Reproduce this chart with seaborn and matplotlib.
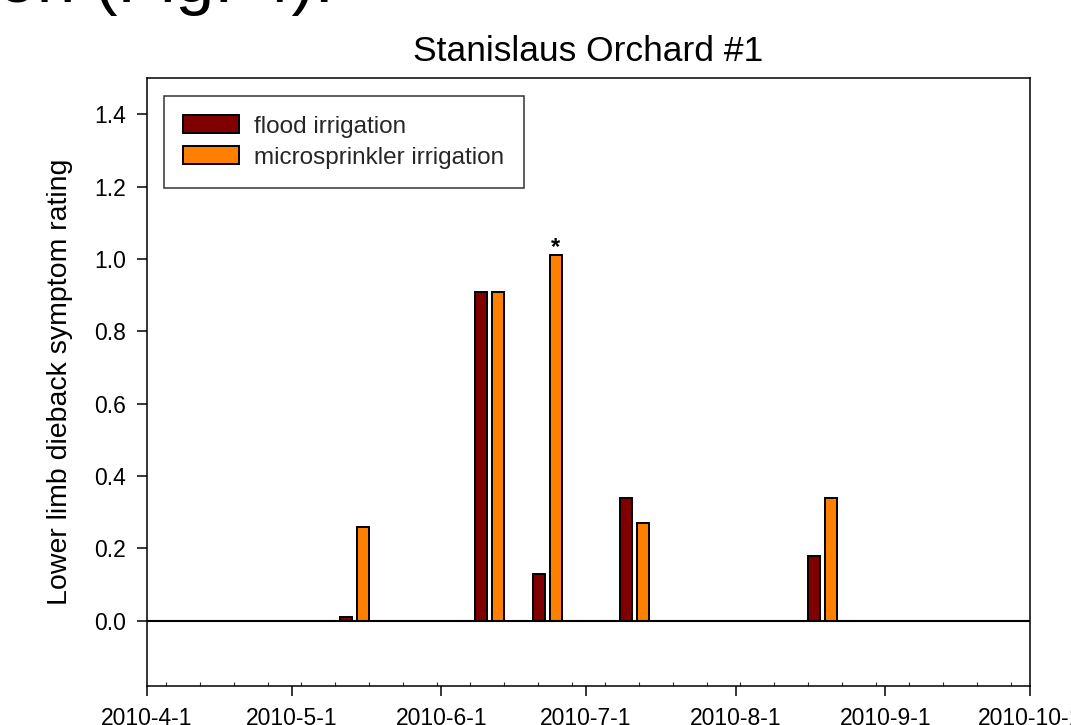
import numpy as np
import pandas as pd
import matplotlib
matplotlib.use("Agg")
import matplotlib.pyplot as plt
import matplotlib.dates as mdates
import seaborn as sns

# Sampling dates and mean lower-limb dieback ratings per irrigation type
sample_dates = ["2010-05-14", "2010-06-11", "2010-06-23", "2010-07-11", "2010-08-19"]
flood_rating = [0.01, 0.91, 0.13, 0.34, 0.18]
micro_rating = [0.26, 0.91, 1.01, 0.27, 0.34]
micro_significant = [False, False, True, False, False]

series_names = ["flood irrigation", "microsprinkler irrigation"]
series_colors = ["#800000", "#FF8000"]

tick_dates = ["2010-04-01", "2010-05-01", "2010-06-01", "2010-07-01",
              "2010-08-01", "2010-09-01", "2010-10-01"]
tick_labels = ["2010-4-1", "2010-5-1", "2010-6-1", "2010-7-1",
               "2010-8-1", "2010-9-1", "2010-10-1"]
y_ticks = [0.0, 0.2, 0.4, 0.6, 0.8, 1.0, 1.2, 1.4]

sns.set_theme(style="ticks")
plt.rcParams["font.family"] = ["Liberation Sans", "DejaVu Sans"]

# bars of a pair sit either side of the sampling date (in days)
half_gap = 1.76
bar_days = 2.4

base = mdates.date2num(pd.to_datetime(sample_dates))
df = pd.DataFrame({
    "pos": np.concatenate([base - half_gap, base + half_gap]),
    "rating": flood_rating + micro_rating,
    "treatment": [series_names[0]] * len(base) + [series_names[1]] * len(base),
})
native = np.min(np.diff(np.unique(df["pos"].to_numpy())))

fig = plt.figure(figsize=(10.71, 7.25), dpi=100)
ax = fig.add_axes([147 / 1071, 1 - 686 / 725, 883 / 1071, 608 / 725])

sns.barplot(data=df, x="pos", y="rating", hue="treatment",
            hue_order=series_names, palette=series_colors,
            native_scale=True, dodge=False, width=bar_days / native,
            errorbar=None, saturation=1, edgecolor="black", linewidth=1.4,
            ax=ax)

# significance marker
for d, v, sig in zip(base, micro_rating, micro_significant):
    if sig:
        ax.annotate("*", xy=(d + half_gap, v), xytext=(0, -3),
                    textcoords="offset points", ha="center", va="bottom",
                    fontsize=17, fontweight="bold", color="black")

ax.axhline(0, color="black", lw=1.5, zorder=5)

x_lo, x_hi = mdates.date2num(pd.to_datetime([tick_dates[0], tick_dates[-1]]))
ax.set_xlim(x_lo, x_hi)
ax.set_ylim(-0.18, 1.5)

ax.set_xticks(mdates.date2num(pd.to_datetime(tick_dates)))
ax.set_xticklabels(tick_labels)
ax.xaxis.set_minor_locator(mdates.WeekdayLocator(byweekday=mdates.MO))
ax.set_yticks(y_ticks)
ax.set_yticklabels([f"{t:.1f}" for t in y_ticks])

for s in ax.spines.values():
    s.set_visible(True)
    s.set_linewidth(1.1)
    s.set_color("black")

ax.tick_params(axis="both", which="major", length=7, width=1.1, pad=8,
               labelsize=16.5, colors="black", direction="out")
ax.tick_params(axis="x", which="minor", length=3, width=0.8, direction="in")
ax.tick_params(axis="y", which="minor", left=False)

ax.set_xlabel("")
ax.set_ylabel("Lower limb dieback symptom rating", fontsize=20.5, color="black")
ax.yaxis.set_label_coords(-0.084, 0.5)
ax.set_title("Stanislaus Orchard #1", fontsize=25.5, color="black", pad=12)

handles, labels = ax.get_legend_handles_labels()
leg = ax.legend(handles, labels, loc="upper left",
                bbox_to_anchor=(17 / 883, 1 - 18 / 608),
                frameon=True, fancybox=False, edgecolor="black",
                fontsize=17.5, handlelength=2.3, handleheight=0.75,
                handletextpad=0.6, borderpad=0.8, labelspacing=0.35,
                borderaxespad=0)
leg.get_frame().set_linewidth(1.1)

# caption text running off the top edge
fig.text(-0.002, 1 - 2 / 725, "on (Fig. 4).", fontsize=50, ha="left",
         va="baseline", color="black")

fig.savefig("out.png", dpi=100, facecolor="white")
